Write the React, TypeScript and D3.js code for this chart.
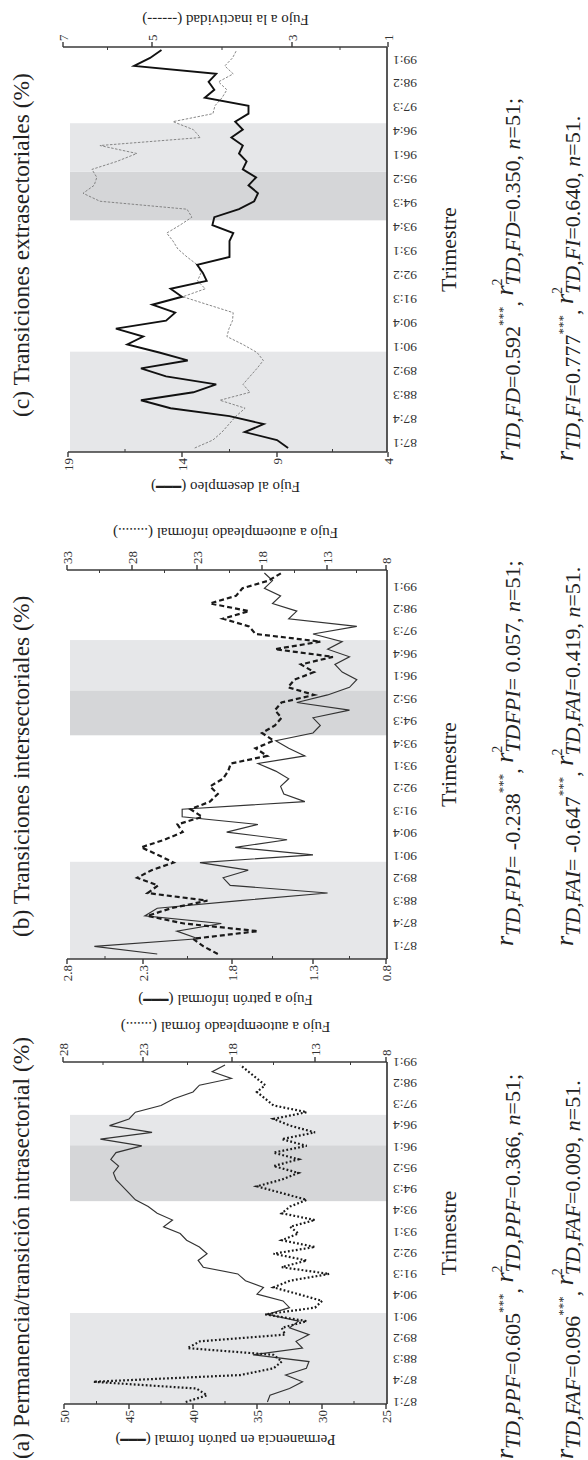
import React from "react";
import * as d3 from "d3";

const FONT = '"Liberation Serif", "Times New Roman", "DejaVu Serif", serif';

// Quarters 87:1 .. 99:3 (51 observations)
const quarters = [
  "87:1","87:2","87:3","87:4","88:1","88:2","88:3","88:4","89:1","89:2","89:3","89:4",
  "90:1","90:2","90:3","90:4","91:1","91:2","91:3","91:4","92:1","92:2","92:3","92:4",
  "93:1","93:2","93:3","93:4","94:1","94:2","94:3","94:4","95:1","95:2","95:3","95:4",
  "96:1","96:2","96:3","96:4","97:1","97:2","97:3","97:4","98:1","98:2","98:3","98:4",
  "99:1","99:2","99:3"
];
const tickQuarters = ["87:1","87:4","88:3","89:2","90:1","90:4","91:3","92:2","93:1","93:4","94:3","95:2","96:1","96:4","97:3","98:2","99:1"];

// (a) Permanencia en patrón formal (left) / Flujo a autoempleado formal (right)
const ppf = [34.2,34.0,32.5,31.5,32.8,31.2,31.0,35.3,31.5,32.0,31.0,32.5,31.8,34.2,32.5,33.0,35.0,34.5,35.9,36.5,39.2,39.6,38.9,39.5,40.5,41.0,42.3,41.6,42.8,43.5,44.5,45.0,45.5,46.0,46.2,45.8,46.4,46.0,44.0,47.2,43.2,46.5,45.0,44.5,42.5,41.5,40.0,39.5,37.0,38.5,37.5];
const faf = [20.6,19.4,20.0,26.1,17.5,15.5,15.0,15.5,20.5,19.8,14.8,15.0,13.5,16.0,13.0,12.5,14.0,15.5,14.5,12.0,15.0,13.5,15.5,13.0,15.0,14.0,14.5,13.0,15.0,14.5,13.5,15.0,16.5,15.0,14.0,15.5,14.0,15.5,13.5,15.0,13.0,14.5,15.5,13.5,15.5,16.0,16.5,16.0,16.5,17.0,17.5];

// (b) Flujo a patrón informal (left) / Flujo a autoempleado informal (right)
const fpi = [2.22,2.62,1.99,2.11,1.86,2.29,2.22,1.75,1.2,1.81,1.85,1.7,1.98,1.3,1.78,1.46,1.83,1.64,2.08,2.08,1.35,1.48,1.5,1.45,1.53,1.64,1.35,1.45,1.53,1.3,1.25,1.3,1.05,1.4,1.2,1.05,1.0,1.1,1.15,1.05,1.2,1.1,1.3,1.0,1.45,1.4,1.55,1.5,1.6,1.55,1.6];
const fai = [21.4,22.5,23.3,18.3,24.0,26.8,25.0,22.2,26.8,26.0,27.6,26.5,24.8,26.0,27.3,25.5,24.1,24.5,22.6,23.5,22.0,21.4,22.0,21.0,20.6,20.4,17.6,18.5,17.1,18.0,17.0,16.5,17.0,16.5,14.0,16.0,15.5,14.0,15.0,12.5,17.0,13.5,18.5,19.0,21.0,19.0,22.0,20.0,19.5,17.5,16.5];

// (c) Flujo al desempleo (left) / Flujo a la inactividad (right)
const fd = [8.5,9.0,10.7,9.7,11.5,14.5,15.8,13.4,12.2,14.7,15.8,13.7,15.0,16.4,15.7,16.9,14.7,14.3,15.3,14.0,14.5,12.7,12.9,13.2,11.5,11.5,11.5,11.3,12.4,12.3,11.0,10.2,10.0,10.5,10.1,10.8,10.6,11.0,10.8,11.4,10.8,11.2,10.5,10.5,12.8,12.3,12.6,12.2,16.1,15.4,14.9];
const fi = [4.39,4.13,4.0,3.9,3.8,3.67,4.03,3.6,3.7,3.6,3.5,3.41,3.5,3.7,3.93,3.9,3.85,3.84,4.2,4.56,4.24,4.35,4.3,4.35,4.5,4.63,4.7,4.79,4.6,4.43,4.5,6.17,6.55,6.3,6.24,6.35,5.79,5.34,6.17,4.31,4.41,4.7,4.13,4.1,4.0,3.93,4.05,3.84,3.96,3.85,3.79];

// shaded periods, in quarter-index units [start, end, tone]
const shadesA = [[-1, 13.2, "light"], [29.8, 38.1, "dark"], [38.1, 42.6, "light"]];
const shadesB = [[-1, 12.1, "light"], [28.7, 34.6, "dark"], [34.6, 41.2, "light"]];
const shadesC = [[-1, 12.1, "light"], [28.6, 34.7, "dark"], [34.7, 40.8, "light"]];

const leftTicksA = [25, 30, 35, 40, 45, 50];
const rightTicksA = [8, 13, 18, 23, 28];
const leftTicksB = [0.8, 1.3, 1.8, 2.3, 2.8];
const rightTicksB = [8, 13, 18, 23, 28, 33];
const leftTicksC = [4, 9, 14, 19];
const rightTicksC = [1, 3, 5, 7];

const SHADE = { light: "#e6e7e9", dark: "#d5d6d8" };
const STYLES = {
  solidThin: { stroke: "#333", width: 1.15, dash: null },
  dotted: { stroke: "#1a1a1a", width: 2.2, dash: "1.8 2.2" },
  dashed: { stroke: "#1a1a1a", width: 2.2, dash: "5 3" },
  solidThick: { stroke: "#111", width: 1.9, dash: null },
  grayDash: { stroke: "#7a7a7a", width: 0.9, dash: "2.5 1.5" },
};

const PLOT_TOP = 64;
const PLOT_BOTTOM = 387;
const SHADE_TOP = 70;

const panels = [
  {
    title: "(a) Permanencia/transición intrasectorial (%)", titleX: 1,
    left: 56, right: 398, data0: 58, data1: 395, lab0: 58, lab1: 398,
    leftAxis: { ticks: leftTicksA, pos: [386, 322, 257, 193, 129, 64], label: "Permanencia en patrón formal", legend: "thick", labelX: 20 },
    rightAxis: { ticks: rightTicksA, pos: [386, 315, 232, 143, 63], label: "Fujo a autoempleado formal", legend: "(.......)", labelX: 433 },
    series: [{ values: ppf, axis: "left", style: "solidThin" }, { values: faf, axis: "right", style: "dotted" }],
    shades: shadesA,
    formulaX: 1,
    f1: { s1: "TD,PPF", r: "=0.605", s2: "TD,PPF", r2: "=0.366", end: ";" },
    f2: { s1: "TD,FAF", r: "=0.096", s2: "TD,FAF", r2: "=0.009", end: "." },
  },
  {
    title: "(b) Transiciones intersectoriales (%)", titleX: 523,
    left: 501, right: 890, data0: 506, data1: 887, lab0: 514, lab1: 873,
    leftAxis: { ticks: leftTicksB, pos: [386, 313, 232, 143, 67], label: "Fujo a patrón informal", legend: "thick", labelX: 460 },
    rightAxis: { ticks: rightTicksB, pos: [386, 327, 262, 197, 132, 67], label: "Fujo a autoempleado informal", legend: "(........)", labelX: 927 },
    series: [{ values: fpi, axis: "left", style: "solidThin" }, { values: fai, axis: "right", style: "dashed" }],
    shades: shadesB,
    formulaX: 514,
    f1: { s1: "TD,FPI", r: "= -0.238", s2: "TDFPI", r2: "= 0.057", end: ";" },
    f2: { s1: "TD,FAI", r: "= -0.647", s2: "TD,FAI", r2: "=0.419", end: "." },
  },
  {
    title: "(c) Transiciones extrasectoriales (%)", titleX: 1043,
    left: 1008, right: 1413, data0: 1012, data1: 1410, lab0: 1017, lab1: 1400,
    leftAxis: { ticks: leftTicksC, pos: [388, 277, 182, 68], label: "Fujo al desempleo", legend: "thick", labelX: 973 },
    rightAxis: { ticks: rightTicksC, pos: [388, 292, 152, 63], label: "Fujo a la inactividad", legend: "(------)", labelX: 1440 },
    series: [{ values: fi, axis: "right", style: "grayDash" }, { values: fd, axis: "left", style: "solidThick" }],
    shades: shadesC,
    formulaX: 999,
    f1: { s1: "TD,FD", r: "=0.592", s2: "TD,FD", r2: "=0.350", end: ";" },
    f2: { s1: "TD,FI", r: "=0.777", s2: "TD,FI", r2: "=0.640", end: "." },
  },
];

function AxisLabel({ x, text, legend }) {
  const cy = (PLOT_TOP + PLOT_BOTTOM) / 2;
  return (
    <text transform={`translate(${x},${cy}) rotate(-90)`} textAnchor="middle" dominantBaseline="central"
      fontFamily={FONT} fontSize={15} fill="#222">
      {text + " "}
      {legend === "thick" ? (
        <>
          <tspan>(</tspan>
          <tspan fontFamily="DejaVu Sans" fontSize={14}>━━━</tspan>
          <tspan>)</tspan>
        </>
      ) : (
        <tspan>{legend}</tspan>
      )}
    </text>
  );
}

function Formula({ x, y, f }) {
  return (
    <text x={x} y={y} fontFamily={FONT} fontSize={22} fill="#222">
      <tspan fontStyle="italic" fontSize={26}>r</tspan>
      <tspan dy={7} fontStyle="italic">{f.s1}</tspan>
      <tspan>{f.r}</tspan>
      <tspan dy={-13} fontSize={13}>***</tspan>
      <tspan dy={13}>{", "}</tspan>
      <tspan dy={-7} fontStyle="italic" fontSize={26}>r</tspan>
      <tspan dy={-11} fontSize={14}>2</tspan>
      <tspan dx={-7} dy={18} fontStyle="italic">{f.s2}</tspan>
      <tspan>{f.r2 + ", "}</tspan>
      <tspan fontStyle="italic">n</tspan>
      <tspan>{"=51" + f.end}</tspan>
    </text>
  );
}

function Panel({ p }) {
  const x = d3.scaleLinear().domain([0, quarters.length - 1]).range([p.data0, p.data1]);
  const yL = d3.scaleLinear().domain(p.leftAxis.ticks).range(p.leftAxis.pos);
  const yR = d3.scaleLinear().domain(p.rightAxis.ticks).range(p.rightAxis.pos);
  const lab = d3.scalePoint().domain(tickQuarters).range([p.lab0, p.lab1]);
  const clampX = (v) => Math.max(p.left, Math.min(p.right, v));

  const minorL = p.leftAxis.pos.slice(1).map((v, i) => (v + p.leftAxis.pos[i]) / 2);
  const minorR = p.rightAxis.pos.slice(1).map((v, i) => (v + p.rightAxis.pos[i]) / 2);
  const topL = d3.min(p.leftAxis.pos);
  const topR = d3.min(p.rightAxis.pos);

  return (
    <g>
      {p.shades.map(([s0, s1, tone], i) => {
        const x0 = clampX(x(s0));
        const x1 = clampX(x(s1));
        return <rect key={i} x={x0} y={SHADE_TOP} width={x1 - x0} height={PLOT_BOTTOM - SHADE_TOP} fill={SHADE[tone]} />;
      })}

      {p.series.map((s, i) => {
        const y = s.axis === "left" ? yL : yR;
        const st = STYLES[s.style];
        const line = d3.line().x((d, j) => x(j)).y((d) => y(d));
        return (
          <path key={i} d={line(s.values)} fill="none" stroke={st.stroke} strokeWidth={st.width}
            strokeDasharray={st.dash || undefined} strokeLinejoin="miter" />
        );
      })}

      <line x1={p.left} x2={p.left} y1={topL} y2={PLOT_BOTTOM} stroke="#3a3a3a" strokeWidth={1.7} />
      <line x1={p.right} x2={p.right} y1={topR} y2={PLOT_BOTTOM} stroke="#3a3a3a" strokeWidth={1.7} />
      <line x1={p.left} x2={p.right} y1={PLOT_BOTTOM} y2={PLOT_BOTTOM} stroke="#3a3a3a" strokeWidth={1.7} />

      {p.leftAxis.ticks.map((t, i) => (
        <g key={"l" + i}>
          <line x1={p.left - 5} x2={p.left} y1={yL(t)} y2={yL(t)} stroke="#3a3a3a" strokeWidth={1.4} />
          <text x={p.left - 6} y={yL(t)} textAnchor="end" dominantBaseline="central" fontFamily={FONT} fontSize={13} fill="#333">{String(t)}</text>
        </g>
      ))}
      {minorL.map((v, i) => (
        <line key={"ml" + i} x1={p.left} x2={p.left + 3} y1={v} y2={v} stroke="#3a3a3a" strokeWidth={1} />
      ))}
      {p.rightAxis.ticks.map((t, i) => (
        <g key={"r" + i}>
          <line x1={p.right} x2={p.right + 5} y1={yR(t)} y2={yR(t)} stroke="#3a3a3a" strokeWidth={1.4} />
          <text x={p.right + 6} y={yR(t)} textAnchor="start" dominantBaseline="central" fontFamily={FONT} fontSize={13} fill="#333">{String(t)}</text>
        </g>
      ))}
      {minorR.map((v, i) => (
        <line key={"mr" + i} x1={p.right - 3} x2={p.right} y1={v} y2={v} stroke="#3a3a3a" strokeWidth={1} />
      ))}

      {tickQuarters.map((q) => (
        <text key={q} transform={`translate(${lab(q)},${PLOT_BOTTOM + 6}) rotate(-90)`} textAnchor="end"
          dominantBaseline="central" fontFamily={FONT} fontSize={13.5} fill="#333">{q}</text>
      ))}

      <AxisLabel x={p.leftAxis.labelX} text={p.leftAxis.label} legend={p.leftAxis.legend} />
      <AxisLabel x={p.rightAxis.labelX} text={p.rightAxis.label} legend={p.rightAxis.legend} />

      <text x={p.titleX} y={29} fontFamily={FONT} fontSize={23.5} fill="#222">{p.title}</text>
      <text x={(p.left + p.right) / 2} y={456} textAnchor="middle" fontFamily={FONT} fontSize={22} fill="#222">Trimestre</text>

      <Formula x={p.formulaX} y={513} f={p.f1} />
      <Formula x={p.formulaX} y={573} f={p.f2} />
    </g>
  );
}

export default function App() {
  const W = 588, H = 1460;
  return (
    <svg width={W} height={H} viewBox={`0 0 ${W} ${H}`} style={{ position: "absolute", left: 0, top: 0, background: "#fff" }}>
      <rect width={W} height={H} fill="#fff" />
      <g transform={`translate(0,${H}) rotate(-90)`}>
        {panels.map((p, i) => <Panel key={i} p={p} />)}
      </g>
    </svg>
  );
}
